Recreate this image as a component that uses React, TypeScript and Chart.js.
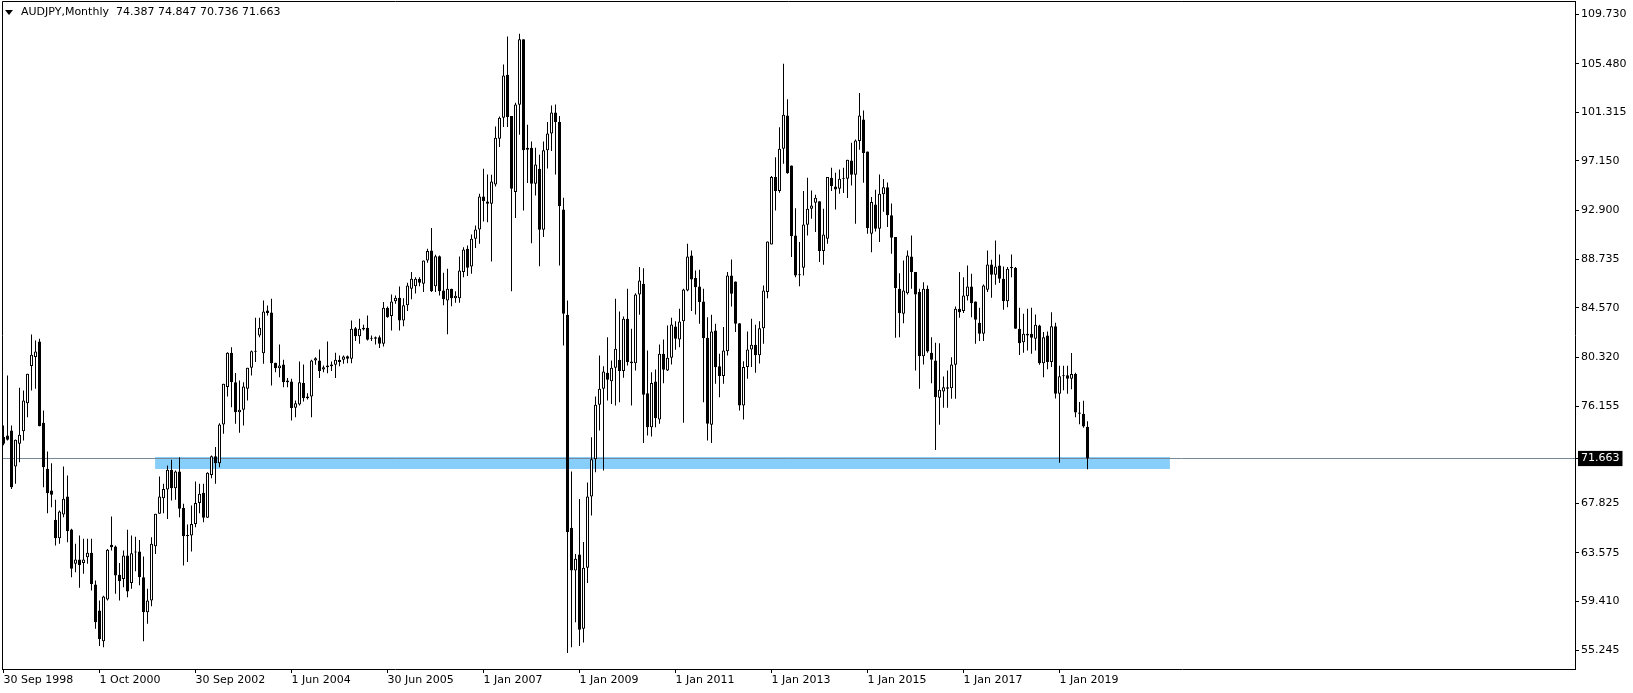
import { useEffect, useRef } from 'react';
import { Chart, registerables } from 'chart.js';

Chart.register(...registerables);

const opens = [
  73.5, 73.63, 74.06, 70.98, 72.92, 74.0, 76.4, 79.58, 80.35, 81.69, 74.72, 70.78,
  68.92, 66.41, 64.84, 66.86, 68.41, 65.58, 62.64, 63.01, 62.72, 63.21, 63.58, 60.87,
  58.64, 56.0, 59.58, 64.27, 64.12, 61.7, 61.35, 63.35, 61.0, 63.6, 63.69, 61.5,
  58.5, 59.5, 64.15, 66.92, 68.26, 69.0, 70.69, 69.12, 70.55, 67.43, 65.12, 65.06,
  66.06, 67.86, 68.72, 66.58, 70.26, 71.86, 71.26, 74.57, 77.78, 80.72, 78.2, 75.63,
  75.83, 77.63, 79.43, 80.86, 82.2, 80.69, 84.34, 84.17, 79.86, 79.4, 79.72, 78.35,
  78.26, 76.0, 76.29, 78.14, 76.97, 76.97, 80.06, 80.06, 79.29, 79.49, 79.72, 79.69,
  80.12, 80.12, 80.43, 80.2, 82.83, 82.14, 82.86, 82.86, 82.0, 81.92, 82.06, 81.49,
  84.57, 83.86, 85.14, 85.43, 83.49, 84.8, 86.2, 86.43, 87.06, 86.63, 88.63, 89.49,
  86.43, 89.0, 86.06, 85.2, 86.2, 85.4, 85.4, 87.63, 89.63, 88.12, 90.49, 91.29,
  94.11, 93.69, 93.49, 95.14, 99.06, 100.86, 104.54, 101.0, 94.49, 101.97, 107.57, 98.28,
  98.28, 95.2, 96.49, 91.26, 98.06, 99.5, 101.3, 100.5, 93.0, 83.97, 65.72, 62.07,
  63.44, 57.07, 62.3, 68.4, 71.6, 76.26, 77.63, 79.0, 78.29, 79.43, 80.12, 79.15,
  83.63, 79.97, 79.83, 85.72, 86.63, 77.26, 74.35, 78.26, 75.0, 80.63, 79.2, 80.29,
  82.97, 81.86, 83.43, 86.06, 89.06, 87.12, 86.4, 85.12, 82.0, 74.55, 82.63, 79.57,
  78.72, 80.86, 87.34, 86.83, 83.26, 76.2, 79.5, 81.0, 81.4, 80.5, 82.83, 85.92,
  90.0, 95.77, 94.57, 98.2, 101.05, 96.77, 90.77, 87.43, 88.0, 91.69, 93.06, 93.57,
  93.71, 89.43, 90.49, 95.71, 94.97, 94.77, 95.63, 95.63, 97.2, 95.97, 98.86, 100.71,
  97.97, 90.91, 93.43, 91.34, 94.3, 94.9, 92.5, 90.63, 86.2, 84.06, 85.83, 88.97,
  87.63, 85.92, 80.43, 86.2, 80.72, 80.06, 76.86, 77.4, 77.77, 77.69, 79.69, 84.49,
  84.29, 85.57, 86.4, 85.12, 83.29, 82.35, 86.12, 88.29, 87.4, 88.2, 87.06, 85.14,
  88.06, 88.0, 82.77, 81.63, 82.34, 82.34, 81.92, 83.06, 79.83, 82.2, 79.92, 83.0,
  77.2, 78.7, 78.8, 78.5, 78.9, 75.6, 75.5, 74.387,
];

const highs = [
  74.5, 78.78, 74.49, 73.3, 77.72, 77.49, 78.92, 82.29, 81.77, 81.92, 75.78, 72.26,
  71.26, 68.12, 67.21, 70.98, 70.21, 65.64, 64.35, 65.06, 64.78, 64.78, 64.78, 61.21,
  59.5, 59.9, 63.9, 66.69, 64.2, 62.72, 63.78, 65.55, 65.06, 64.97, 64.69, 63.26,
  60.5, 64.92, 66.92, 70.12, 69.49, 71.06, 71.55, 70.64, 71.78, 67.78, 66.01, 67.64,
  69.69, 69.49, 69.49, 70.49, 71.92, 72.64, 74.69, 78.06, 80.77, 81.2, 78.98, 78.35,
  78.2, 79.43, 80.92, 83.72, 83.72, 85.2, 84.77, 85.34, 79.86, 81.43, 80.12, 78.57,
  78.49, 76.63, 79.97, 79.72, 77.26, 80.12, 80.34, 81.0, 79.63, 81.69, 79.97, 80.72,
  80.49, 80.49, 80.49, 83.49, 82.92, 83.63, 83.12, 83.92, 82.2, 82.12, 82.2, 85.06,
  84.69, 85.72, 85.63, 86.4, 85.4, 86.72, 87.63, 87.2, 87.2, 88.63, 89.63, 91.4,
  89.12, 89.06, 87.57, 87.92, 86.2, 86.0, 88.97, 89.77, 89.92, 90.86, 91.63, 94.34,
  96.49, 96.0, 95.97, 100.11, 100.97, 105.42, 107.82, 101.0, 102.14, 108.05, 107.57, 100.25,
  98.83, 98.28, 97.68, 98.83, 100.5, 101.9, 102.0, 101.0, 94.0, 85.2, 70.55, 63.49,
  68.2, 64.5, 69.6, 73.49, 76.98, 80.49, 79.57, 82.06, 80.06, 85.34, 84.26, 83.83,
  86.2, 82.77, 85.83, 88.06, 87.97, 80.92, 79.06, 79.29, 81.43, 81.86, 83.06, 83.72,
  83.43, 84.49, 86.2, 90.06, 89.49, 87.77, 87.83, 86.2, 83.77, 83.97, 83.2, 80.63,
  82.92, 87.63, 88.72, 86.83, 83.26, 80.0, 82.55, 83.63, 83.12, 83.43, 86.49, 90.26,
  95.86, 97.48, 100.05, 105.48, 102.43, 96.77, 93.11, 90.2, 94.57, 95.71, 94.63, 94.26,
  93.71, 93.06, 95.77, 96.57, 96.14, 96.43, 96.57, 97.26, 98.71, 99.0, 102.97, 101.48,
  97.97, 94.06, 94.69, 96.0, 95.6, 95.3, 93.5, 90.63, 87.54, 88.63, 89.49, 90.77,
  87.63, 86.2, 86.77, 86.49, 82.06, 81.57, 81.54, 78.69, 79.2, 80.34, 84.69, 87.63,
  87.2, 88.2, 87.49, 85.12, 84.57, 86.57, 89.49, 88.69, 90.34, 89.14, 88.12, 88.06,
  89.14, 88.06, 84.57, 84.06, 84.49, 84.57, 84.0, 83.12, 82.49, 82.55, 84.2, 83.3,
  79.6, 79.6, 79.6, 80.7, 79.0, 76.5, 76.6, 74.847,
];

const lows = [
  72.8, 73.2, 69.06, 69.49, 71.35, 73.21, 75.2, 77.49, 77.63, 74.43, 69.21, 66.98,
  67.49, 64.21, 64.35, 66.64, 64.49, 61.5, 61.92, 60.58, 61.78, 62.64, 60.35, 57.07,
  55.6, 55.5, 59.5, 63.78, 60.07, 59.5, 60.64, 59.78, 60.5, 62.0, 60.8, 56.0,
  57.5, 59.0, 63.49, 66.92, 66.98, 66.49, 68.06, 68.12, 66.64, 62.5, 62.8, 63.69,
  65.78, 66.98, 66.21, 66.58, 69.98, 69.49, 70.92, 73.78, 76.97, 76.06, 74.63, 73.86,
  74.49, 76.63, 78.77, 79.92, 82.06, 79.77, 83.92, 77.92, 79.06, 78.63, 77.77, 77.77,
  74.92, 75.2, 76.2, 76.55, 76.72, 75.2, 79.69, 78.55, 79.06, 78.97, 79.15, 78.55,
  79.57, 79.77, 79.83, 79.83, 81.72, 81.49, 82.63, 81.77, 81.72, 81.43, 81.14, 81.26,
  83.72, 82.63, 84.92, 82.63, 83.0, 84.3, 85.3, 85.8, 86.43, 85.92, 88.43, 85.92,
  85.92, 85.63, 84.8, 82.3, 84.7, 85.0, 85.0, 87.2, 87.29, 87.49, 89.69, 90.06,
  91.97, 91.91, 88.54, 94.97, 98.34, 100.06, 100.06, 86.0, 92.26, 99.4, 92.91, 95.26,
  90.11, 94.2, 88.14, 90.63, 96.5, 98.0, 96.0, 88.2, 81.35, 55.0, 55.5, 57.64,
  55.6, 55.9, 61.0, 66.78, 70.49, 74.06, 70.64, 76.63, 76.34, 76.2, 76.49, 78.57,
  79.63, 76.2, 79.2, 83.97, 73.0, 73.63, 73.55, 74.35, 74.63, 78.12, 79.15, 79.72,
  80.97, 81.2, 74.72, 86.0, 84.29, 84.0, 83.2, 76.49, 73.2, 73.0, 78.06, 76.92,
  78.06, 80.49, 84.69, 82.49, 75.77, 75.0, 78.5, 79.5, 79.0, 79.8, 81.5, 85.4,
  90.0, 92.91, 94.43, 96.91, 96.06, 88.92, 87.2, 86.43, 87.34, 90.77, 92.2, 91.06,
  88.49, 88.26, 90.06, 94.57, 93.0, 94.34, 94.4, 93.97, 95.06, 91.77, 98.11, 95.29,
  90.91, 89.34, 91.11, 90.2, 92.8, 91.5, 89.2, 82.0, 82.06, 83.26, 85.72, 86.2,
  79.2, 77.63, 79.72, 80.72, 78.12, 72.4, 74.55, 76.0, 76.0, 76.78, 76.78, 83.72,
  84.12, 85.2, 83.77, 81.49, 81.72, 81.72, 85.92, 85.43, 86.54, 86.69, 84.4, 84.63,
  87.2, 82.77, 80.54, 80.72, 80.92, 80.63, 80.92, 79.69, 78.63, 79.3, 79.5, 76.8,
  71.3, 77.5, 77.2, 77.6, 75.2, 74.6, 74.3, 70.736,
];

const closes = [
  72.92, 73.26, 69.21, 73.26, 73.69, 76.63, 78.92, 80.55, 80.83, 74.43, 70.92, 68.69,
  68.55, 64.84, 67.12, 68.21, 65.44, 62.21, 63.01, 62.55, 63.01, 63.58, 60.92, 57.64,
  56.2, 59.84, 63.84, 64.07, 61.64, 61.15, 63.35, 60.27, 63.55, 63.7, 61.5, 58.5,
  59.5, 64.35, 66.92, 68.41, 69.06, 70.69, 69.12, 70.55, 67.35, 65.01, 65.01, 66.06,
  67.86, 68.64, 66.58, 70.44, 71.86, 71.26, 74.57, 78.06, 80.72, 78.2, 75.63, 75.83,
  77.83, 79.43, 80.86, 80.8, 82.86, 84.26, 84.12, 79.83, 79.4, 79.63, 78.2, 78.2,
  75.98, 76.4, 78.2, 76.83, 76.83, 80.06, 80.26, 79.15, 79.49, 79.63, 79.57, 80.12,
  79.92, 80.4, 80.2, 82.77, 82.14, 82.77, 82.72, 81.83, 81.92, 82.06, 81.49, 84.57,
  83.77, 85.12, 85.43, 83.49, 84.8, 86.49, 87.06, 87.06, 86.72, 88.63, 89.43, 86.0,
  89.0, 86.0, 85.3, 86.2, 85.4, 85.6, 87.77, 89.57, 88.0, 90.49, 91.29, 94.11,
  93.71, 93.49, 95.4, 99.14, 100.86, 104.48, 100.91, 94.77, 102.0, 107.57, 98.06, 98.11,
  95.2, 96.86, 91.26, 98.06, 99.5, 101.3, 100.5, 93.3, 84.06, 65.35, 62.07, 63.07,
  57.0, 62.3, 68.4, 71.6, 76.26, 77.63, 79.12, 78.4, 79.43, 81.06, 79.15, 83.63,
  79.92, 79.83, 85.72, 86.92, 77.12, 74.35, 78.14, 75.12, 80.63, 79.26, 80.29, 83.15,
  81.92, 83.4, 86.14, 88.97, 87.0, 86.34, 85.06, 81.97, 74.63, 82.55, 79.49, 78.72,
  80.92, 87.34, 85.77, 83.2, 76.2, 79.5, 81.0, 81.4, 80.5, 82.83, 86.06, 90.26,
  95.77, 94.57, 98.2, 101.11, 96.11, 90.71, 87.34, 87.37, 91.71, 93.06, 93.34, 94.0,
  89.43, 90.86, 95.77, 95.0, 94.71, 95.63, 95.69, 97.26, 95.97, 98.91, 101.05, 97.83,
  91.4, 93.63, 91.34, 94.34, 94.9, 92.5, 90.57, 86.26, 84.1, 86.06, 89.06, 87.63,
  85.72, 80.43, 86.2, 80.83, 80.12, 76.92, 77.55, 77.77, 77.63, 79.72, 84.49, 84.2,
  85.63, 86.4, 84.97, 83.55, 82.35, 86.49, 88.29, 87.4, 88.12, 87.06, 85.14, 87.92,
  87.97, 82.77, 81.54, 82.34, 82.2, 82.0, 83.12, 79.83, 82.06, 79.92, 83.0, 77.2,
  78.7, 78.8, 78.5, 78.9, 75.6, 75.5, 74.4, 71.663,
];

const xTickIndex = [0, 24, 48, 72, 96, 120, 144, 168, 192, 216, 240, 264];
const xTickLabels = [
  '30 Sep 1998', '1 Oct 2000', '30 Sep 2002', '1 Jun 2004', '30 Jun 2005', '1 Jan 2007',
  '1 Jan 2009', '1 Jan 2011', '1 Jan 2013', '1 Jan 2015', '1 Jan 2017', '1 Jan 2019',
];
const yTickValues = [
  109.73, 105.48, 101.315, 97.15, 92.9, 88.735, 84.57, 80.32, 76.155, 71.663,
  67.825, 63.575, 59.41, 55.245,
];

const bidPrice = 71.663;
const zoneTop = 71.79;
const zoneBottom = 70.76;
const zoneStart = 37.9;
const zoneEnd = 291.6;

const xMin = -0.375;
const xMax = 392.875;
const yMin = 53.63;
const yMax = 110.856;

const FONT = 'DejaVu Sans';

const framePlugin = {
  id: 'frame',
  afterDraw(chart: any) {
    const { ctx, chartArea: a } = chart;
    ctx.save();
    ctx.strokeStyle = '#000';
    ctx.lineWidth = 1;
    ctx.beginPath();
    ctx.moveTo(a.left + 0.5, a.bottom);
    ctx.lineTo(a.left + 0.5, a.top + 0.5);
    ctx.lineTo(a.right, a.top + 0.5);
    ctx.stroke();
    ctx.restore();
  },
};

export default function App() {
  const ref = useRef<HTMLCanvasElement>(null);

  useEffect(() => {
    const idx = opens.map((_, i) => i);
    const bull = idx.map((i) => closes[i] >= opens[i]);
    const chart = new Chart(ref.current as HTMLCanvasElement, {
      type: 'bar',
      data: {
        datasets: [
          {
            type: 'line',
            data: [
              { x: zoneStart, y: zoneTop },
              { x: zoneEnd, y: zoneTop },
            ],
            borderColor: 'rgba(0,0,0,0)',
            borderWidth: 0,
            pointRadius: 0,
            fill: false,
            order: 10,
          } as any,
          {
            type: 'line',
            data: [
              { x: zoneStart, y: zoneBottom },
              { x: zoneEnd, y: zoneBottom },
            ],
            borderColor: 'rgba(0,0,0,0)',
            borderWidth: 0,
            pointRadius: 0,
            fill: '-1',
            backgroundColor: '#87CEFA',
            order: 9,
          } as any,
          {
            type: 'line',
            data: [
              { x: xMin, y: bidPrice },
              { x: xMax, y: bidPrice },
            ],
            borderColor: '#778899',
            borderWidth: 1,
            pointRadius: 0,
            fill: false,
            order: 8,
          } as any,
          {
            type: 'bar',
            data: idx.map((i) => ({ x: i, y: [lows[i], highs[i]] })),
            backgroundColor: '#000',
            borderWidth: 0,
            barThickness: 1,
            maxBarThickness: 1,
            grouped: false,
            inflateAmount: 0,
            minBarLength: 1,
            order: 2,
          } as any,
          {
            type: 'bar',
            data: idx.map((i) => ({ x: i, y: [opens[i], closes[i]] })),
            backgroundColor: bull.map((b) => (b ? '#fff' : '#000')),
            borderColor: '#000',
            borderWidth: 1,
            borderSkipped: false,
            barThickness: 3,
            maxBarThickness: 3,
            grouped: false,
            inflateAmount: 0,
            minBarLength: 1,
            order: 1,
          } as any,
        ],
      },
      options: {
        animation: false,
        responsive: false,
        maintainAspectRatio: false,
        devicePixelRatio: 1,
        events: [],
        layout: { padding: { left: 2, top: 1, right: 0, bottom: 0 } },
        plugins: {
          legend: { display: false },
          tooltip: { enabled: false },
          title: { display: false },
        },
        scales: {
          x: {
            type: 'linear',
            min: xMin,
            max: xMax,
            bounds: 'data',
            offset: false,
            grid: { drawOnChartArea: false, drawTicks: true, tickLength: 4, color: '#000', offset: false },
            border: { display: true, color: '#000', width: 1 },
            ticks: {
              autoSkip: false,
              maxRotation: 0,
              minRotation: 0,
              align: 'start',
              padding: 1,
              color: '#000',
              font: { family: FONT, size: 11 },
              callback: (_v: any, i: number) => xTickLabels[i],
            },
            afterBuildTicks: (s: any) => {
              s.ticks = xTickIndex.map((v) => ({ value: v }));
            },
            afterFit: (s: any) => {
              s.height = 24;
              s.paddingLeft = 0;
              s.paddingRight = 0;
            },
          },
          y: {
            type: 'linear',
            position: 'right',
            min: yMin,
            max: yMax,
            bounds: 'data',
            grid: { drawOnChartArea: false, drawTicks: true, tickLength: 4, color: '#000' },
            border: { display: true, color: '#000', width: 1 },
            ticks: {
              autoSkip: false,
              padding: 2,
              color: (c: any) => (c.tick && c.tick.value === bidPrice ? '#fff' : '#000'),
              showLabelBackdrop: (c: any) => !!(c.tick && c.tick.value === bidPrice),
              backdropColor: '#000',
              backdropPadding: { top: 1, bottom: 1, left: 3, right: 3 },
              font: { family: FONT, size: 11 },
              callback: (v: any) => Number(v).toFixed(3),
            },
            afterBuildTicks: (s: any) => {
              s.ticks = yTickValues.map((v) => ({ value: v }));
            },
            afterFit: (s: any) => {
              s.width = 58;
              s.paddingTop = 0;
              s.paddingBottom = 0;
            },
          },
        },
      } as any,
      plugins: [framePlugin],
    });
    return () => chart.destroy();
  }, []);

  return (
    <div style={{ position: 'absolute', left: 0, top: 0, width: 1633, height: 693, background: '#fff' }}>
      <canvas ref={ref} width={1633} height={693} style={{ display: 'block' }} />
      <div
        style={{
          position: 'absolute',
          left: 5,
          top: 5,
          font: `11px "${FONT}"`,
          color: '#000',
          display: 'flex',
          alignItems: 'center',
          whiteSpace: 'pre',
          lineHeight: '14px',
        }}
      >
        <span
          style={{
            display: 'inline-block',
            width: 0,
            height: 0,
            borderLeft: '4px solid transparent',
            borderRight: '4px solid transparent',
            borderTop: '5px solid #000',
            marginRight: 8,
          }}
        />
        <span>AUDJPY,Monthly  74.387 74.847 70.736 71.663</span>
      </div>
    </div>
  );
}
